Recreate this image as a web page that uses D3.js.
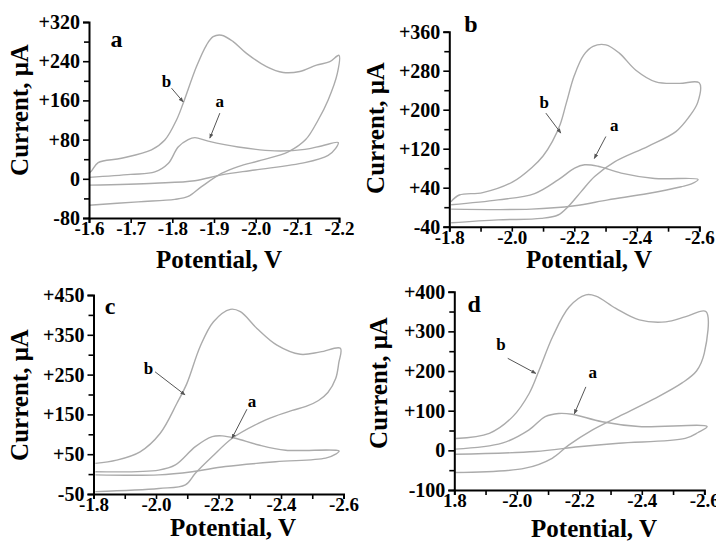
<!DOCTYPE html>
<html>
<head>
<meta charset="utf-8">
<script src="https://cdnjs.cloudflare.com/ajax/libs/d3/7.8.5/d3.min.js"></script>
<style>
body { margin: 0; background: #fff; }
svg text { font-family: "Liberation Serif", "Times New Roman", serif; font-weight: bold; fill: #000; }
</style>
</head>
<body>
<svg width="716" height="545"></svg>
<script>
// ---- data (potential V, current uA), forward scan then return scan ----
var aCurveB = [[-1.600, 12], [-1.606, 16], [-1.622, 33], [-1.678, 42], [-1.75, 59], [-1.782, 79], [-1.81, 120],
    [-1.826, 154], [-1.858, 229], [-1.882, 273], [-1.898, 290], [-1.918, 293], [-1.946, 280], [-1.978, 256],
    [-2.026, 229], [-2.066, 217], [-2.106, 219], [-2.146, 232], [-2.178, 239], [-2.2, 252],
    [-2.196, 215], [-2.174, 161], [-2.15, 120], [-2.12, 80], [-2.078, 55], [-2.014, 38], [-1.958, 25],
    [-1.918, 11], [-1.87, -16], [-1.838, -36], [-1.806, -42], [-1.718, -47], [-1.6, -54]];
var aCurveA = [[-1.6, 3], [-1.7, 9], [-1.758, 14], [-1.79, 31], [-1.814, 65], [-1.838, 80], [-1.854, 84],
    [-1.886, 77], [-1.958, 65], [-2.046, 57], [-2.118, 60], [-2.158, 67], [-2.198, 74],
    [-2.192, 62], [-2.174, 48], [-2.118, 33], [-1.998, 18], [-1.918, 8], [-1.854, -4], [-1.758, -9], [-1.6, -13]];

var bCurveB = [[-1.805, 11], [-1.832, 25], [-1.907, 30], [-2.003, 52], [-2.067, 83], [-2.10, 105], [-2.13, 135],
    [-2.155, 170], [-2.175, 215], [-2.2, 270], [-2.23, 312], [-2.26, 330], [-2.301, 333], [-2.344, 316],
    [-2.397, 281], [-2.461, 257], [-2.536, 254], [-2.6, 255],
    [-2.595, 215], [-2.568, 186], [-2.525, 155], [-2.436, 125], [-2.329, 93], [-2.265, 63], [-2.222, 32],
    [-2.18, 1], [-2.148, -16], [-2.094, -23], [-1.956, -26], [-1.806, -32]];
var bCurveA = [[-1.806, 5], [-1.956, 15], [-2.073, 28], [-2.148, 56], [-2.201, 80], [-2.233, 87], [-2.276, 84],
    [-2.35, 70], [-2.457, 59], [-2.596, 57],
    [-2.575, 48], [-2.542, 42], [-2.436, 28], [-2.308, 15], [-2.201, 3], [-2.062, -4], [-1.806, -4]];

var cCurveB = [[-1.806, 27], [-1.874, 35], [-1.949, 56], [-2.013, 102], [-2.067, 178], [-2.099, 228], [-2.141, 320],
    [-2.184, 383], [-2.238, 414], [-2.27, 408], [-2.323, 366], [-2.387, 324], [-2.462, 301], [-2.526, 307], [-2.59, 316],
    [-2.585, 280], [-2.575, 240], [-2.55, 205], [-2.52, 185], [-2.48, 170], [-2.436, 160], [-2.38, 145],
    [-2.329, 128], [-2.244, 90], [-2.18, 44], [-2.126, 2], [-2.094, -27], [-2.009, -36], [-1.806, -44]];
var cCurveA = [[-1.806, 6], [-2.009, 10], [-2.062, 23], [-2.126, 69], [-2.18, 94], [-2.212, 96], [-2.254, 90],
    [-2.329, 73], [-2.415, 60], [-2.586, 58],
    [-2.575, 50], [-2.543, 40], [-2.383, 31], [-2.222, 19], [-2.116, 6], [-2.009, -2], [-1.806, -2]];

var dCurveB = [[-1.805, 30], [-1.912, 43], [-1.987, 85], [-2.04, 144], [-2.072, 203], [-2.115, 287], [-2.168, 362],
    [-2.221, 392], [-2.253, 389], [-2.317, 358], [-2.392, 329], [-2.477, 324], [-2.541, 337], [-2.605, 350],
    [-2.6, 245], [-2.575, 200], [-2.529, 170], [-2.433, 127], [-2.326, 85], [-2.241, 51], [-2.166, 13],
    [-2.113, -20], [-2.027, -45], [-1.803, -56]];
var dCurveA = [[-1.803, 3], [-1.953, 18], [-2.038, 51], [-2.091, 85], [-2.134, 93], [-2.177, 91], [-2.273, 72],
    [-2.39, 60], [-2.609, 60],
    [-2.58, 45], [-2.539, 30], [-2.326, 18], [-2.198, 9], [-2.059, -3], [-1.803, -10]];

// ---- ticks ----
var xTicksA = [-1.6, -1.7, -1.8, -1.9, -2.0, -2.1, -2.2];
var xLabelsA = ["-1.6", "-1.7", "-1.8", "-1.9", "-2.0", "-2.1", "-2.2"];
var xTicksBCD = [-1.8, -1.9, -2.0, -2.1, -2.2, -2.3, -2.4, -2.5, -2.6];
var xLabelsBC = ["-1.8", "", "-2.0", "", "-2.2", "", "-2.4", "", "-2.6"];
var xLabelsD = ["1.8", "", "-2.0", "", "-2.2", "", "-2.4", "", "-2.6"];

var yTicksA = [-80, -40, 0, 40, 80, 120, 160, 200, 240, 280, 320];
var yLabelsA = ["-80", "", "0", "", "+80", "", "+160", "", "+240", "", "+320"];
var yTicksB = [-40, 0, 40, 80, 120, 160, 200, 240, 280, 320, 360];
var yLabelsB = ["-40", "", "+40", "", "+120", "", "+200", "", "+280", "", "+360"];
var yTicksC = [-50, 0, 50, 100, 150, 200, 250, 300, 350, 400, 450];
var yLabelsC = ["-50", "", "+50", "", "+150", "", "+250", "", "+350", "", "+450"];
var yTicksD = [-100, -50, 0, 50, 100, 150, 200, 250, 300, 350, 400];
var yLabelsD = ["-100", "", "0", "", "+100", "", "+200", "", "+300", "", "+400"];

// annotation anchors in data units: [label position, leader start, leader end]
var noteB = {a: [[-1.786, 196], [-1.798, 185], [-1.826, 157]], b: [[-2.104, 212], [-2.109, 193], [-2.157, 152]],
             c: [[-1.976, 262], [-1.997, 257], [-2.093, 199]], d: [[-1.949, 263], [-1.971, 232], [-2.061, 194]]};
var noteA = {a: [[-1.914, 155], [-1.914, 134], [-1.89, 83]], b: [[-2.328, 164], [-2.301, 145], [-2.264, 100]],
             c: [[-2.307, 178], [-2.291, 163], [-2.243, 90]], d: [[-2.243, 193], [-2.221, 160], [-2.184, 92]]};
var panelLetter = {a: [-1.666, 280], b: [-1.869, 370], c: [-1.853, 417], d: [-1.864, 362]};

// ---- layout ----
var panels = [
    {id: "a", left: 89, right: 339, top: 22, bottom: 218, xDom: [-1.6, -2.2], yDom: [-80, 320],
     xTicks: xTicksA, xLabels: xLabelsA, yTicks: yTicksA, yLabels: yLabelsA,
     curves: [aCurveB, aCurveA], yTitle: [22, 110], xTitle: [219, 262]},
    {id: "b", left: 449.3, right: 699.3, top: 31.7, bottom: 226.7, xDom: [-1.8, -2.6], yDom: [-40, 360],
     xTicks: xTicksBCD, xLabels: xLabelsBC, yTicks: yTicksB, yLabels: yLabelsB,
     curves: [bCurveB, bCurveA], yTitle: [378, 128], xTitle: [589, 262]},
    {id: "c", left: 93.5, right: 343.5, top: 295, bottom: 494, xDom: [-1.8, -2.6], yDom: [-50, 450],
     xTicks: xTicksBCD, xLabels: xLabelsBC, yTicks: yTicksC, yLabels: yLabelsC,
     curves: [cCurveB, cCurveA], yTitle: [22, 395], xTitle: [233, 530]},
    {id: "d", left: 454.3, right: 704.3, top: 291.7, bottom: 490, xDom: [-1.8, -2.6], yDom: [-100, 400],
     xTicks: xTicksBCD, xLabels: xLabelsD, yTicks: yTicksD, yLabels: yLabelsD,
     curves: [dCurveB, dCurveA], yTitle: [381, 383], xTitle: [594, 531]}
];

var svg = d3.select("svg");

svg.append("defs").append("marker")
    .attr("id", "arrow")
    .attr("viewBox", "0 0 10 10")
    .attr("refX", 9).attr("refY", 5)
    .attr("markerWidth", 5).attr("markerHeight", 5)
    .attr("orient", "auto")
    .append("path")
    .attr("d", "M0,1L10,5L0,9z")
    .attr("fill", "#555");

panels.forEach(function (p) {
    var x = d3.scaleLinear().domain(p.xDom).range([p.left, p.right]);
    var y = d3.scaleLinear().domain(p.yDom).range([p.bottom, p.top]);
    var g = svg.append("g").attr("class", "panel-" + p.id);

    var line = d3.line()
        .x(function (d) { return x(d[0]); })
        .y(function (d) { return y(d[1]); })
        .curve(d3.curveCatmullRom.alpha(0.5));

    g.selectAll("path.cv")
        .data(p.curves)
        .enter().append("path")
        .attr("class", "cv")
        .attr("d", line)
        .attr("fill", "none")
        .attr("stroke", "#ababab")
        .attr("stroke-width", 1.4);

    // x axis
    var xa = g.append("g")
        .attr("transform", "translate(0," + p.bottom + ")")
        .call(d3.axisBottom(x).tickValues(p.xTicks)
            .tickFormat(function (d, i) { return p.xLabels[i]; })
            .tickSizeOuter(0).tickSize(5).tickPadding(-1));
    // y axis
    var ya = g.append("g")
        .attr("transform", "translate(" + p.left + ",0)")
        .call(d3.axisLeft(y).tickValues(p.yTicks)
            .tickFormat(function (d, i) { return p.yLabels[i]; })
            .tickSizeOuter(0).tickSize(6).tickPadding(3));

    [xa, ya].forEach(function (ax) {
        ax.select(".domain").attr("stroke", "#000").attr("stroke-width", 2);
        ax.selectAll(".tick line").attr("stroke", "#000").attr("stroke-width", 1.6);
        ax.selectAll(".tick text")
            .attr("fill", "#000")
            .style("font-family", "'Liberation Serif', 'Times New Roman', serif")
            .style("font-weight", "bold")
            .style("font-size", "20px");
    });
    xa.selectAll(".tick text").style("font-size", "19px");
    ya.selectAll(".tick").filter(function (d, i) { return p.yLabels[i] === ""; })
        .select("line").attr("x2", -5);

    // titles
    g.append("text")
        .attr("transform", "translate(" + p.yTitle[0] + "," + p.yTitle[1] + ") rotate(-90)")
        .attr("text-anchor", "middle")
        .attr("dominant-baseline", "middle")
        .style("font-size", "25px")
        .text("Current, \u03bcA");
    g.append("text")
        .attr("x", p.xTitle[0]).attr("y", p.xTitle[1])
        .attr("text-anchor", "middle")
        .attr("dominant-baseline", "middle")
        .style("font-size", "25px")
        .text("Potential, V");

    // panel letter
    g.append("text")
        .attr("x", x(panelLetter[p.id][0])).attr("y", y(panelLetter[p.id][1]))
        .attr("text-anchor", "middle")
        .attr("dominant-baseline", "middle")
        .style("font-size", "24px")
        .text(p.id);

    // curve labels with leaders
    [["b", noteB[p.id]], ["a", noteA[p.id]]].forEach(function (n) {
        var pts = n[1];
        g.append("text")
            .attr("x", x(pts[0][0])).attr("y", y(pts[0][1]))
            .attr("text-anchor", "middle")
            .attr("dominant-baseline", "middle")
            .style("font-size", "17px")
            .text(n[0]);
        g.append("line")
            .attr("x1", x(pts[1][0])).attr("y1", y(pts[1][1]))
            .attr("x2", x(pts[2][0])).attr("y2", y(pts[2][1]))
            .attr("stroke", "#555")
            .attr("stroke-width", 1)
            .attr("marker-end", "url(#arrow)");
    });
});
</script>
</body>
</html>
